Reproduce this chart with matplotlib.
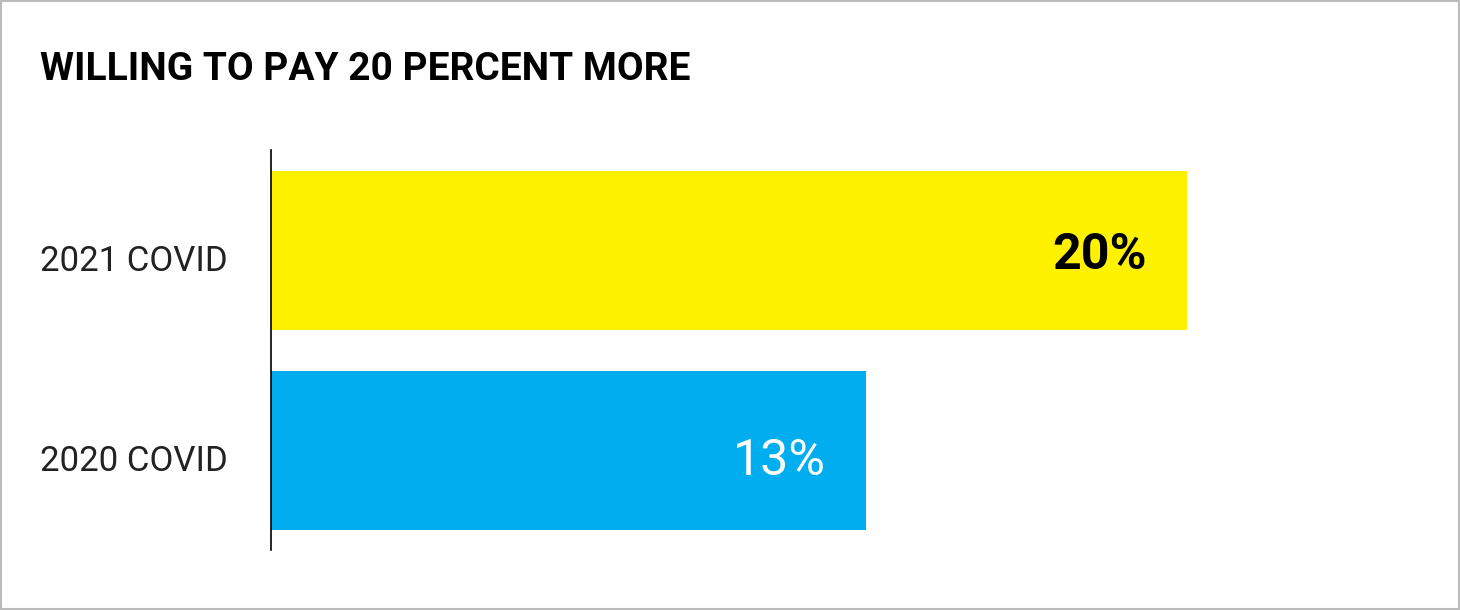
import matplotlib
matplotlib.use('Agg')
import matplotlib.pyplot as plt
from matplotlib import font_manager
from matplotlib.patches import Rectangle

categories = ['2020 COVID', '2021 COVID']
values = [13, 20]
bar_colors = ['#00AEEF', '#FFF200']
label_colors = ['white', 'black']
label_weights = ['normal', 'bold']
title = 'WILLING TO PAY 20 PERCENT MORE'

installed = {f.name for f in font_manager.fontManager.ttflist}
narrow = next((n for n in ['Liberation Sans Narrow', 'DejaVu Sans Condensed', 'Roboto'] if n in installed), 'DejaVu Sans')
plt.rcParams['font.family'] = [narrow, 'DejaVu Sans']

fig = plt.figure(figsize=(14.6, 6.1), dpi=100)
fig.patches.append(Rectangle((0.0007, 0.0016), 0.9986, 0.9968, transform=fig.transFigure,
                             fill=False, edgecolor='#bbbbbb', linewidth=1.5))

ax = fig.add_axes([271 / 1460, 60 / 610, 1149 / 1460, 400 / 610])
pos = range(len(categories))
ax.barh(pos, values, height=0.795, color=bar_colors, left=0)
ax.set_xlim(0, 1149 / 45.8)
ax.set_ylim(-0.5, 1.5)

# baseline offsets below bar centre, in pixels (200 px per category)
value_drop = [25, 19]
for i, v in enumerate(values):
    ax.text(v - 0.88, i - value_drop[i] / 200, f'{v}%', ha='right', va='baseline', fontsize=36,
            color=label_colors[i], fontweight=label_weights[i])

# category labels at the left edge of the figure
for i, c in enumerate(categories):
    y_fig = fig.transFigure.inverted().transform(ax.transData.transform((0, i - 21 / 200)))[1]
    fig.text(40 / 1460, y_fig, c, ha='left', va='baseline', fontsize=25, color='#222222')

for s in ['top', 'right', 'bottom']:
    ax.spines[s].set_visible(False)
ax.spines['left'].set_linewidth(1.2)
ax.spines['left'].set_color('black')
ax.set_xticks([])
ax.set_yticks([])

fig.text(40 / 1460, 1 - 80 / 610, title, ha='left', va='baseline', fontsize=28,
         fontweight='bold', color='black')

fig.savefig('out.png', dpi=100)
